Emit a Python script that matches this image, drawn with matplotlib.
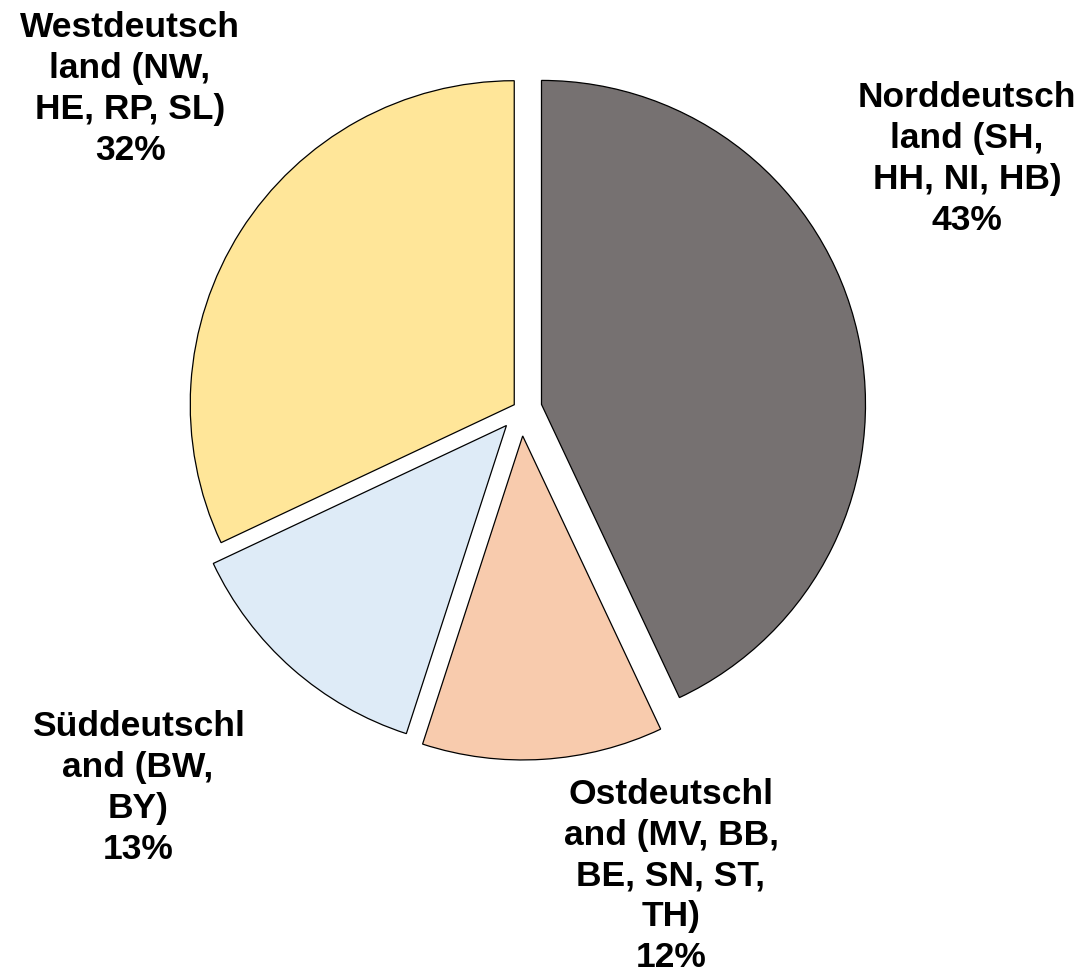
import matplotlib.pyplot as plt
import matplotlib as mpl

# slice data, clockwise from 12 o'clock
regions = ['Norddeutsch\nland (SH,\nHH, NI, HB)',
           'Ostdeutschl\nand (MV, BB,\nBE, SN, ST,\nTH)',
           'Süddeutschl\nand (BW,\nBY)',
           'Westdeutsch\nland (NW,\nHE, RP, SL)']
shares = [43, 12, 13, 32]
colors = ['#767171', '#F8CBAD', '#DEEBF7', '#FFE699']
# offsets in pixels (pie explode is in data units here)
explode = [21, 27, 22, 8]

# label block centres in pixels (figure is 1083 x 980)
label_pos = [(967, 980 - 159), (671, 980 - 876), (138, 980 - 788), (130, 980 - 89)]

mpl.rcParams['font.family'] = ['Liberation Sans', 'DejaVu Sans']

fig = plt.figure(figsize=(10.83, 9.8), dpi=100)
ax = fig.add_axes([0, 0, 1, 1])

ax.pie(shares, colors=colors, explode=explode, startangle=90,
       counterclock=False, center=(521, 980 - 409), radius=324,
       wedgeprops=dict(edgecolor='black', linewidth=0.9))
ax.set_xlim(0, 1083)
ax.set_ylim(0, 980)
ax.set_aspect('equal')
ax.axis('off')

for name, val, (x, y) in zip(regions, shares, label_pos):
    ax.text(x, y, name + '\n' + str(val) + '%', ha='center', va='center',
            fontsize=25.5, fontweight='bold', linespacing=1.3)

fig.savefig('out.png', dpi=100)
